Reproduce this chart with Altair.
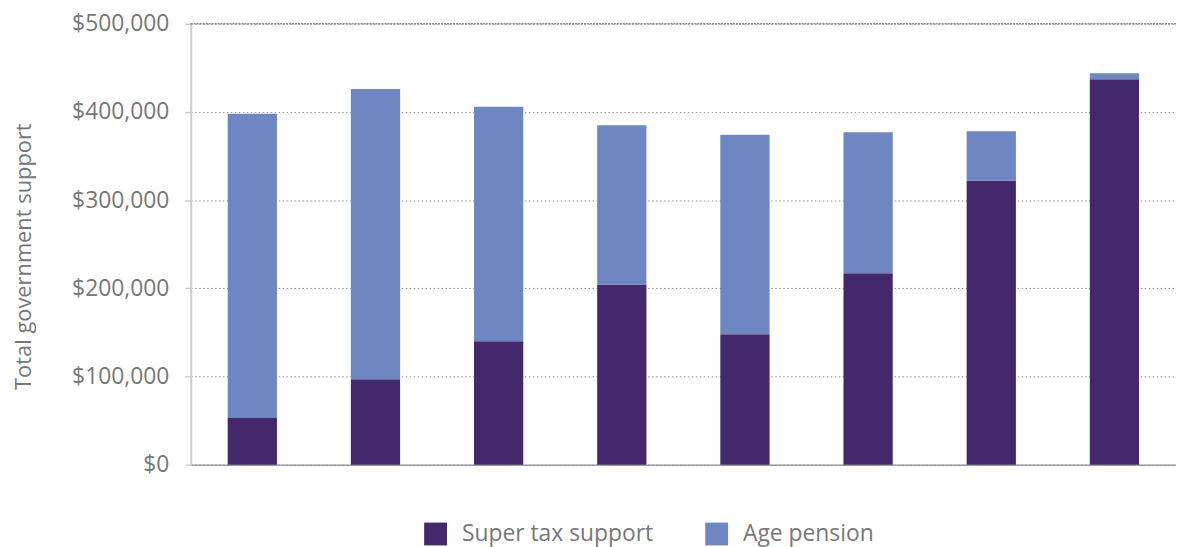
import altair as alt
import pandas as pd

categories = ["1", "2", "3", "4", "5", "6", "7", "8"]
super_tax = [53000, 97000, 140000, 204000, 148000, 217000, 322000, 437000]
age_pension = [345000, 329000, 266000, 181000, 226000, 160000, 56000, 7000]
series = ["Super tax support", "Age pension"]
colors = ["#43296B", "#6E86C2"]

rows = []
for i, c in enumerate(categories):
    rows.append({"cat": c, "series": series[0], "value": super_tax[i], "order": 0})
    rows.append({"cat": c, "series": series[1], "value": age_pension[i], "order": 1})
df = pd.DataFrame(rows)

FONT = "Open Sans"
GRAY = "#777777"

bars = alt.Chart(df).mark_bar().encode(
    x=alt.X("cat:N", sort=categories, title=None,
            scale=alt.Scale(paddingInner=0.6, paddingOuter=0.3),
            axis=alt.Axis(labels=False, ticks=False, domainColor="#999999", domainWidth=1.5)),
    y=alt.Y("value:Q", stack="zero", title="Total government support",
            scale=alt.Scale(domain=[0, 500000], nice=False),
            axis=alt.Axis(values=[0, 100000, 200000, 300000, 400000, 500000],
                          format="$,.0f", labelFontSize=23, labelColor=GRAY, labelFont=FONT,
                          labelPadding=16, tickSize=6, tickColor="#cccccc", tickWidth=1.5,
                          domainColor="#cccccc", domainWidth=2,
                          grid=True, gridDash=[1.5, 2.5], gridColor="#888888", gridWidth=1,
                          titleFontSize=22, titleColor=GRAY, titleFont=FONT, titleFontWeight="normal",
                          titlePadding=36, titleY=234)),
    color=alt.Color("series:N", scale=alt.Scale(domain=series, range=colors), title=None,
                    legend=alt.Legend(orient="none", legendX=235, legendY=502, direction="horizontal",
                                      symbolType="square", symbolSize=529, symbolStrokeWidth=0,
                                      labelFontSize=23, labelColor=GRAY, labelFont=FONT, labelLimit=0,
                                      columnPadding=52, labelOffset=15, padding=0)),
    order=alt.Order("order:Q"),
)

top = alt.Chart(pd.DataFrame({"y": [500000]})).mark_rule(color="#888888", strokeWidth=1.5, strokeDash=[2, 1]).encode(
    y="y:Q"
)

chart = alt.layer(bars, top).properties(
    width=992, height=444,
    autosize=alt.AutoSizeParams(type="none"),
    padding={"left": 184, "top": 14, "right": 0, "bottom": 81},
).configure(font=FONT).configure_view(stroke=None)

chart.save("out.html", embed_options={"renderer": "svg", "actions": False})
